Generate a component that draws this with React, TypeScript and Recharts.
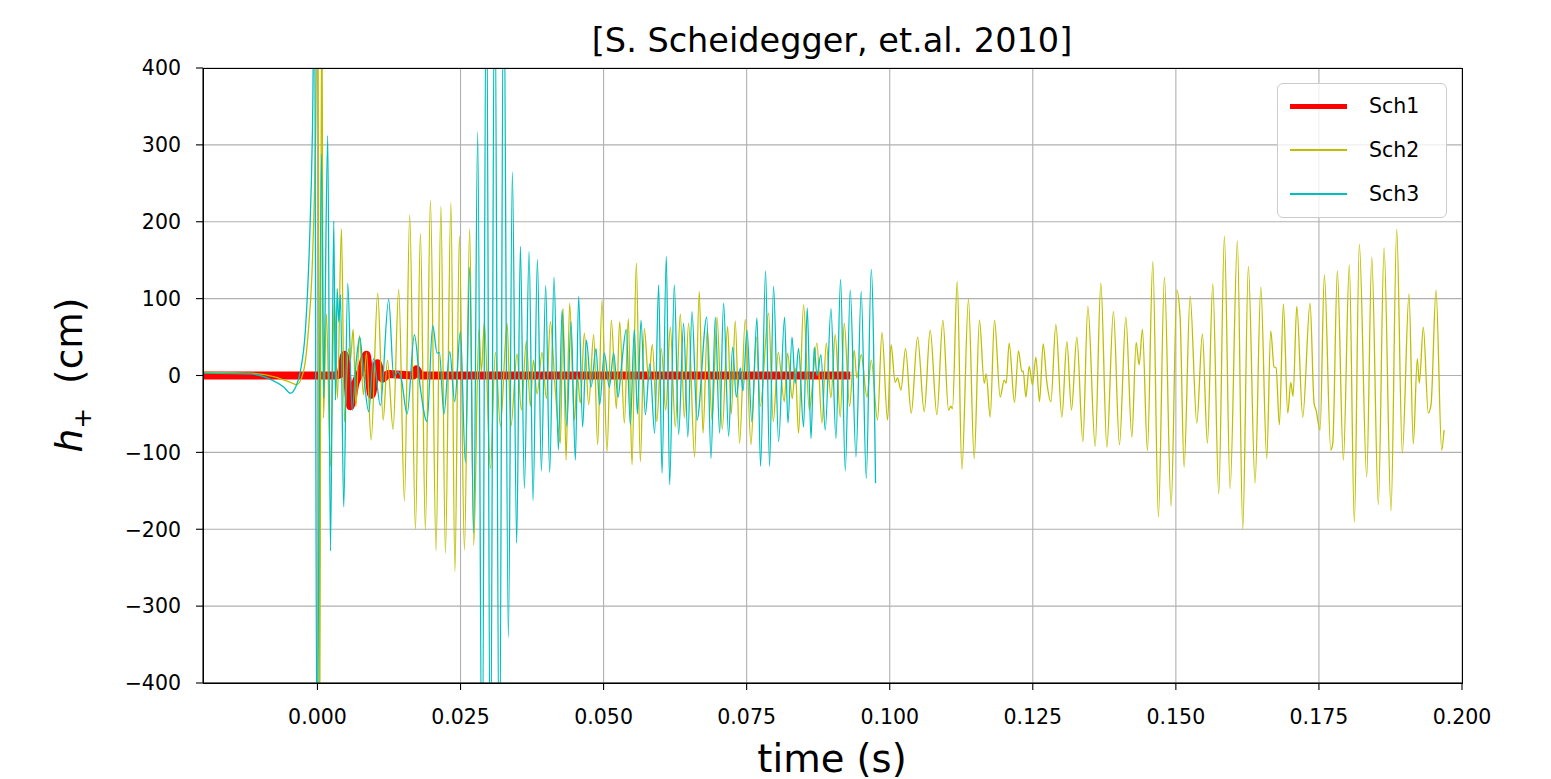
import { LineChart, Line, XAxis, YAxis, CartesianGrid } from 'recharts'

// [time (s), h+ (cm)]
const sch1: [number, number][] = [
  [-0.02, 0], [0.00314, 0], [0.00402, 2], [0.00472, 27], [0.00576, -40], [0.00664, -10], [0.00751, 5],
  [0.00856, 27], [0.00943, -25], [0.01048, 16], [0.01135, -4], [0.0124, 2], [0.01677, 0], [0.01729, 8],
  [0.018, 0], [0.0931, 0],
]

const sch2: [number, number][] = [
  [-0.02, 4], [-0.0117, 3], [-0.00734, -2], [-0.00472, -9], [-0.00362, -12], [-0.00245, 5], [-0.00157, 60],
  [-0.00087, 150], [-0.00035, 300], [0.00009, 560], [0.00035, -560], [0.00075, 520], [0.00105, -55],
  [0.00157, 80], [0.00227, -118], [0.00297, 100], [0.00349, -30], [0.00419, 191], [0.00472, -60],
  [0.00541, 35], [0.00576, 20], [0.00624, 60], [0.00672, -40], [0.00734, 52], [0.00803, -25], [0.00856, 30],
  [0.00938, -84], [0.01053, 107], [0.01148, -58], [0.01223, 20], [0.01322, -70], [0.0142, 112],
  [0.0152, -163], [0.01612, 209], [0.01712, -200], [0.01799, 185], [0.01886, -201], [0.01974, 228],
  [0.02073, -228], [0.02157, 220], [0.02236, -231], [0.02332, 225], [0.02402, -255], [0.0248, 181],
  [0.02568, -227], [0.0266, 191], [0.0273, -221], [0.02821, 60], [0.02865, 5], [0.02917, 70], [0.03022, -121],
  [0.03109, 30], [0.03197, -66], [0.03314, 68], [0.0338, -66], [0.03488, 28], [0.03563, -45], [0.03651, 45],
  [0.0372, -40], [0.03773, 20], [0.03838, -24], [0.03925, 30], [0.04, -30], [0.0407, 70], [0.04157, -20],
  [0.04245, -88], [0.04292, 87], [0.04344, -110], [0.04407, 94], [0.04489, -58], [0.04541, 0], [0.04594, -36],
  [0.04664, 55], [0.04739, -38], [0.04827, 53], [0.04896, -90], [0.04973, 98], [0.0506, -99], [0.05135, 72],
  [0.05223, -43], [0.05281, 70], [0.05363, -62], [0.05432, 74], [0.05497, -116], [0.05572, 146],
  [0.05642, -112], [0.05712, 61], [0.05787, -6], [0.05852, 40], [0.0593, -60], [0.06009, 35], [0.06087, -45],
  [0.06166, 63], [0.06253, -67], [0.06341, 80], [0.0641, -55], [0.06485, 68], [0.0659, -106], [0.06672, 109],
  [0.06737, -75], [0.06812, 60], [0.06896, -58], [0.06982, 76], [0.07074, -70], [0.07167, 64], [0.07231, -50],
  [0.07301, 71], [0.07376, -88], [0.07476, 73], [0.07575, -90], [0.07668, 50], [0.07738, -40], [0.07883, 81],
  [0.07965, -60], [0.08052, 30], [0.08157, -34], [0.08215, 29], [0.08297, -30], [0.08349, 10], [0.08407, -75],
  [0.08494, 92], [0.08594, -45], [0.08728, 42], [0.08816, -62], [0.08891, 42], [0.08973, -29], [0.09048, 53],
  [0.09135, -54], [0.09205, 68], [0.09298, -40], [0.0938, 33], [0.09424, -3], [0.09502, 27], [0.09602, -28],
  [0.09677, 20], [0.09787, -58], [0.09864, 56], [0.09962, -58], [0.10022, 40], [0.10096, -9], [0.10136, -3],
  [0.10196, -19], [0.10276, 35], [0.10376, -49], [0.10486, 50], [0.10603, -47], [0.10707, 59], [0.10824, -51],
  [0.10929, 72], [0.11027, -45], [0.11069, -40], [0.11097, -43], [0.11179, 122], [0.11261, -122],
  [0.11376, 99], [0.11476, -108], [0.11568, 72], [0.11651, -10], [0.11686, 2], [0.11755, -54], [0.11831, 72],
  [0.1193, -28], [0.12, -6], [0.12035, -10], [0.12087, 42], [0.1218, -35], [0.1225, 32], [0.12309, 5],
  [0.12332, 6], [0.12379, -28], [0.12437, 12], [0.12494, -12], [0.12554, 24], [0.12617, -34], [0.12681, 41],
  [0.12746, -9], [0.12816, -34], [0.12903, 66], [0.13008, -54], [0.13096, 44], [0.13176, -45], [0.1327, 50],
  [0.13375, -86], [0.13462, 90], [0.1359, -92], [0.13689, 120], [0.13794, -93], [0.13909, 83], [0.14014, -90],
  [0.14126, 76], [0.14231, -80], [0.14306, 43], [0.14358, 14], [0.14416, 60], [0.14503, -98], [0.14597, 148],
  [0.14695, -184], [0.148, 128], [0.14917, -170], [0.15017, 111], [0.15074, 76], [0.15144, -119],
  [0.15249, 103], [0.15366, -62], [0.15464, 54], [0.15551, -88], [0.15645, 119], [0.1575, -154],
  [0.15848, 181], [0.15948, -147], [0.16075, 175], [0.16169, -200], [0.16267, 142], [0.16384, -140],
  [0.16484, 115], [0.16588, -108], [0.16658, 58], [0.16716, 11], [0.16751, 10], [0.16809, -64], [0.16879, 93],
  [0.16955, -49], [0.17008, -9], [0.17048, -27], [0.17113, 90], [0.17217, -54], [0.17345, 94], [0.17415, -36],
  [0.1745, -45], [0.1752, -71], [0.17595, 131], [0.17707, -97], [0.17742, -88], [0.17822, 136],
  [0.17927, -110], [0.18031, 144], [0.18119, -191], [0.18206, 171], [0.18335, -132], [0.18423, 154],
  [0.18538, -168], [0.18638, 166], [0.1876, -176], [0.18859, 190], [0.18957, -101], [0.19074, 106],
  [0.19149, -89], [0.19219, 22], [0.19254, -10], [0.19324, 63], [0.19411, -49], [0.19459, -38], [0.19546, 111],
  [0.19645, -97], [0.19686, -71],
]

const sch3: [number, number][] = [
  [-0.02, 3], [-0.0117, 2], [-0.0082, -5], [-0.0059, -15], [-0.0047, -23], [-0.0038, -15], [-0.003, 5],
  [-0.0021, 60], [-0.0014, 170], [-0.00087, 320], [-0.00052, 520], [-0.00009, -520], [0.0007, 288],
  [0.0011, -29], [0.00128, 55], [0.0018, 312], [0.00227, -228], [0.00285, 201], [0.00314, -32], [0.00344, 113],
  [0.00372, 70], [0.00402, 105], [0.00459, -171], [0.00529, 120], [0.00606, -45], [0.00681, 21], [0.00739, 50],
  [0.00803, 5], [0.00896, -47], [0.00978, 22], [0.011, -39], [0.01245, 99], [0.01333, -3], [0.01397, 5],
  [0.01459, -2], [0.01567, -50], [0.01694, 53], [0.01799, -17], [0.01916, -60], [0.02014, 65], [0.02091, 29],
  [0.02131, 30], [0.0221, -50], [0.02311, 31], [0.02398, -34], [0.02498, 57], [0.02585, -113], [0.0266, 141],
  [0.0273, -205], [0.028, 317], [0.02877, -560], [0.02952, 560], [0.03022, -560], [0.03097, 560],
  [0.03179, -560], [0.03254, 560], [0.03336, -341], [0.03406, 265], [0.03481, -218], [0.03546, 168],
  [0.03616, -147], [0.03698, 161], [0.03768, -163], [0.03843, 151], [0.03913, -124], [0.03988, 117],
  [0.04058, -126], [0.04134, 128], [0.0421, -97], [0.04274, 85], [0.04358, -66], [0.04431, 70], [0.04507, -110],
  [0.04564, 103], [0.04634, -67], [0.04699, 46], [0.04781, -15], [0.04868, 35], [0.04931, -38], [0.05013, 29],
  [0.051, -15], [0.05176, 29], [0.05252, -28], [0.0531, 10], [0.05397, 60], [0.05467, -64], [0.05537, 60],
  [0.0559, -50], [0.05654, 72], [0.05729, -51], [0.05808, 15], [0.05892, -75], [0.05962, 118], [0.06021, -127],
  [0.06096, 155], [0.06154, -142], [0.06236, 118], [0.06311, -77], [0.06398, 68], [0.06472, -80], [0.06545, 83],
  [0.06632, -58], [0.06803, 76], [0.06877, -108], [0.06952, 76], [0.07027, -75], [0.07097, 94], [0.07185, -79],
  [0.07254, 37], [0.07319, -28], [0.07389, 10], [0.07436, -20], [0.07506, 59], [0.0759, -60], [0.0768, 75],
  [0.07743, -118], [0.07831, 136], [0.079, -118], [0.0797, 116], [0.08058, -86], [0.08162, 76], [0.08222, -62],
  [0.08292, 50], [0.08349, -10], [0.08407, 35], [0.08494, -67], [0.08559, 88], [0.08624, -82], [0.08681, 37],
  [0.08728, 0], [0.08798, 27], [0.08873, -71], [0.08973, 87], [0.0906, -82], [0.09141, 125], [0.09223, -124],
  [0.0931, 111], [0.0941, -106], [0.09502, 109], [0.0959, -134], [0.09677, 138], [0.09752, -140],
]

const xTicks = [0, 0.025, 0.05, 0.075, 0.1, 0.125, 0.15, 0.175, 0.2]
const yTicks = [-400, -300, -200, -100, 0, 100, 200, 300, 400]

const series = [
  { name: 'Sch1', color: '#ff0000', width: 8, legendWidth: 5, points: sch1 },
  { name: 'Sch2', color: '#bfbf00', width: 1.3, legendWidth: 2, points: sch2 },
  { name: 'Sch3', color: '#00bfbf', width: 1.3, legendWidth: 2, points: sch3 },
]

const font = '"DejaVu Sans", sans-serif'
const tickStyle = { fontSize: 20.5, fill: '#000', fontFamily: font }
const fmtY = (v: number) => (v < 0 ? `\u2212${Math.abs(v)}` : `${v}`)

export default function App() {
  return (
    <div style={{ position: 'absolute', left: 0, top: 0, width: 1551, height: 779, background: '#fff', fontFamily: font }}>
      <LineChart width={1551} height={779} margin={{ top: 68, right: 89, bottom: 56, left: 143 }}>
        <XAxis
          type="number"
          dataKey="t"
          domain={[-0.02, 0.2]}
          ticks={xTicks}
          interval={0}
          allowDataOverflow
          height={40}
          tickFormatter={(v: number) => v.toFixed(3)}
          tick={tickStyle}
          tickSize={7}
          tickMargin={19}
          tickLine={{ stroke: '#000', strokeWidth: 1.1 }}
          axisLine={{ stroke: '#000', strokeWidth: 1.1 }}
        />
        <YAxis
          type="number"
          domain={[-400, 400]}
          ticks={yTicks}
          interval={0}
          allowDataOverflow
          width={60}
          tickFormatter={fmtY}
          tick={tickStyle}
          tickSize={7}
          tickMargin={15}
          tickLine={{ stroke: '#000', strokeWidth: 1.1 }}
          axisLine={{ stroke: '#000', strokeWidth: 1.1 }}
        />
        {series.map((s) => (
          <Line
            key={s.name}
            data={s.points.map(([t, v]) => ({ t, v }))}
            dataKey="v"
            name={s.name}
            type="monotone"
            stroke={s.color}
            strokeWidth={s.width}
            dot={false}
            activeDot={false}
            isAnimationActive={false}
          />
        ))}
        <CartesianGrid stroke="#b0b0b0" strokeWidth={1.1} horizontalValues={yTicks} verticalValues={xTicks} />
      </LineChart>

      {/* frame */}
      <div style={{ position: 'absolute', left: 203, top: 68, width: 1260, height: 616, border: '1.2px solid #000', boxSizing: 'border-box', pointerEvents: 'none' }} />

      <div style={{ position: 'absolute', left: 832, top: 40, transform: 'translate(-50%, -50%)', fontSize: 33.5, whiteSpace: 'nowrap' }}>
        [S. Scheidegger, et.al. 2010]
      </div>
      <div style={{ position: 'absolute', left: 832, top: 758, transform: 'translate(-50%, -50%)', fontSize: 38.5, whiteSpace: 'nowrap' }}>
        time (s)
      </div>
      <div style={{ position: 'absolute', left: 72, top: 375, transform: 'translate(-50%, -50%) rotate(-90deg)', fontSize: 37.5, whiteSpace: 'nowrap' }}>
        <i>h</i><sub style={{ fontSize: 25 }}>+</sub>&nbsp;&nbsp;(cm)
      </div>

      {/* legend */}
      <div style={{ position: 'absolute', left: 1277, top: 83, width: 170, height: 135, border: '1.2px solid #cccccc', borderRadius: 6, background: 'rgba(255,255,255,0.8)', boxSizing: 'border-box', padding: '0 0 0 12px' }}>
        {series.map((s) => (
          <div key={s.name} style={{ display: 'flex', alignItems: 'center', height: 44 }}>
            <div style={{ width: 57, height: s.legendWidth, background: s.color }} />
            <span style={{ marginLeft: 22, fontSize: 20.5 }}>{s.name}</span>
          </div>
        ))}
      </div>
    </div>
  )
}
